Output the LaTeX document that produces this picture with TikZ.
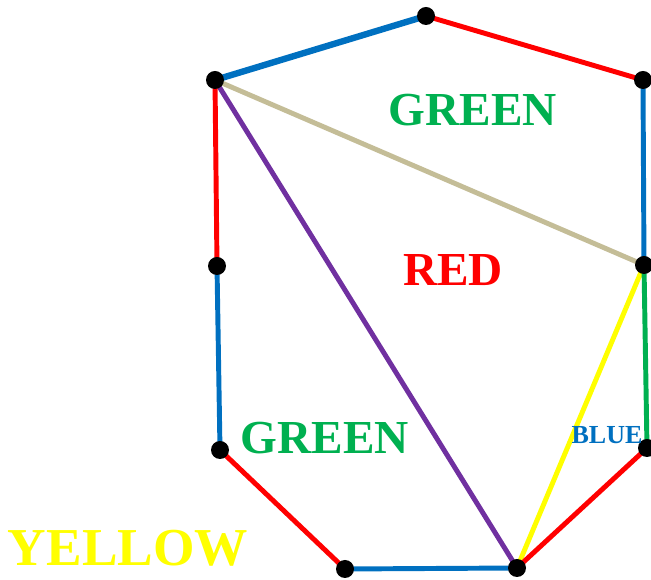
\documentclass[tikz,border=0pt]{standalone}
\usepackage{fontspec}
\setmainfont{Liberation Serif}
\definecolor{eblue}{RGB}{0,112,192}
\definecolor{ered}{RGB}{255,0,0}
\definecolor{egreen}{RGB}{0,176,80}
\definecolor{etan}{RGB}{196,189,151}
\definecolor{epurple}{RGB}{112,48,160}
\definecolor{eyellow}{RGB}{255,255,0}
\begin{document}
\begin{tikzpicture}[x=0.75pt,y=-0.75pt,
  edge/.style={line width=3.7pt},
  vtx/.style={circle,fill=black,inner sep=0pt,minimum size=13.5pt},
  lbl/.style={font=\bfseries,inner sep=0pt}]
\useasboundingbox (0,0) rectangle (651,580);
\coordinate (A) at (426,16);
\coordinate (B) at (643,80);
\coordinate (C) at (644,265);
\coordinate (D) at (647,448);
\coordinate (E) at (517,568);
\coordinate (F) at (345,569);
\coordinate (G) at (220,450);
\coordinate (H) at (217,266);
\coordinate (I) at (215,80);
\draw[edge,etan] (I) -- (C);
\draw[edge,epurple] (I) -- (E);
\draw[edge,eyellow] (C) -- (E);
\draw[edge,eblue,line width=4.8pt] (I) -- (A);
\draw[edge,ered] (A) -- (B);
\draw[edge,eblue] (B) -- (C);
\draw[edge,egreen] (C) -- (D);
\draw[edge,ered] (D) -- (E);
\draw[edge,eblue] (E) -- (F);
\draw[edge,ered] (F) -- (G);
\draw[edge,eblue] (G) -- (H);
\draw[edge,ered] (H) -- (I);
\foreach \p in {A,B,C,D,E,F,G,H,I} \node[vtx] (v\p) at (\p) {};
\node[lbl,egreen,font=\fontsize{35.5}{35.5}\selectfont\bfseries] (g1) at (473,110) {GREEN};
\node[lbl,ered,font=\fontsize{35.5}{35.5}\selectfont\bfseries] (r1) at (453,270) {RED};
\node[lbl,egreen,font=\fontsize{35.5}{35.5}\selectfont\bfseries] (g2) at (325,438) {GREEN};
\node[lbl,eblue,font=\fontsize{19.5}{19.5}\selectfont\bfseries] (b1) at (607,435) {BLUE};
\node[lbl,eyellow,font=\fontsize{40}{40}\selectfont\bfseries] (y1) at (128,548) {YELLOW};
\end{tikzpicture}
\end{document}
